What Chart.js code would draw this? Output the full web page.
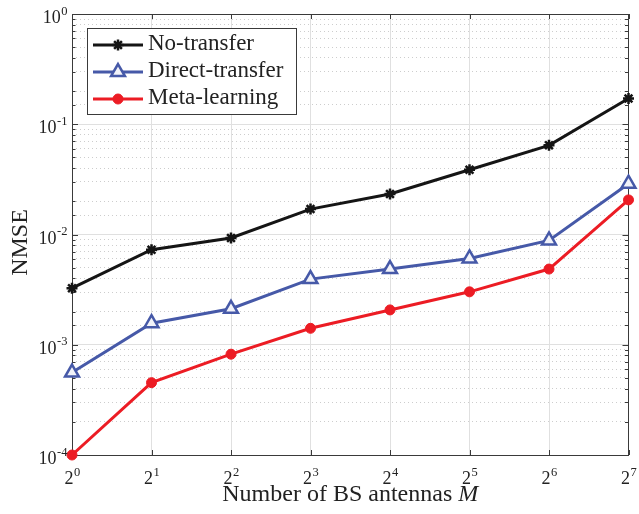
<!DOCTYPE html>
<html><head><meta charset="utf-8">
<script src="https://cdn.jsdelivr.net/npm/chart.js@4/dist/chart.umd.min.js"></script>
<style>html,body{margin:0;padding:0;background:#fff}#wrap{width:639px;height:514px}</style>
</head><body><div id="wrap"><canvas id="c" width="639" height="514"></canvas></div>
<script>
// ---- data ----
const antennas = [1, 2, 4, 8, 16, 32, 64, 128];
const xTickExponents = [0, 1, 2, 3, 4, 5, 6, 7];
const yTickExponents = [0, -1, -2, -3, -4];
const noTransfer = [3.26e-3, 7.27e-3, 9.3e-3, 1.70e-2, 2.33e-2, 3.87e-2, 6.44e-2, 0.171];
const directTransfer = [5.6e-4, 1.57e-3, 2.12e-3, 3.94e-3, 4.86e-3, 6.06e-3, 8.83e-3, 2.89e-2];
const metaLearning = [1.0e-4, 4.53e-4, 8.21e-4, 1.41e-3, 2.07e-3, 3.02e-3, 4.86e-3, 2.06e-2];
const seriesNames = ['No-transfer', 'Direct-transfer', 'Meta-learning'];
const xTitle = 'Number of BS antennas ';
const xTitleVar = 'M';
const yTitle = 'NMSE';

const SERIF = '"Liberation Serif", "Times New Roman", serif';
const TXT = '#222222';
const isDecade = v => Math.abs(Math.log10(v) - Math.round(Math.log10(v))) < 1e-6;

function drawPow(ctx, base, exp, x, baseline, align) {
  ctx.font = '18px ' + SERIF;
  const bw = ctx.measureText(base).width;
  ctx.font = '12.5px ' + SERIF;
  const sw = ctx.measureText(exp).width;
  let left = align === 'right' ? x - bw - sw : x - (bw + sw) / 2;
  ctx.textAlign = 'left';
  ctx.textBaseline = 'alphabetic';
  ctx.font = '18px ' + SERIF;
  ctx.fillText(base, left, baseline);
  ctx.font = '12.5px ' + SERIF;
  ctx.fillText(exp, left + bw + 0.5, baseline - 8.5);
}

const framePlugin = {
  id: 'frame',
  beforeDatasetsDraw(chart) {
    const {ctx, chartArea: a, scales: {x, y}} = chart;
    ctx.save();
    ctx.strokeStyle = '#3a3a3a';
    ctx.lineWidth = 1;
    ctx.beginPath();
    x.ticks.forEach(t => {
      const px = Math.round(x.getPixelForValue(t.value)) + 0.5;
      ctx.moveTo(px, a.bottom); ctx.lineTo(px, a.bottom - 5);
      ctx.moveTo(px, a.top); ctx.lineTo(px, a.top + 5);
    });
    y.ticks.forEach(t => {
      const py = Math.round(y.getPixelForValue(t.value)) + 0.5;
      const L = isDecade(t.value) ? 6 : 3.5;
      ctx.moveTo(a.left, py); ctx.lineTo(a.left + L, py);
      ctx.moveTo(a.right, py); ctx.lineTo(a.right - L, py);
    });
    ctx.stroke();
    ctx.strokeRect(Math.round(a.left) + 0.5, Math.round(a.top) + 0.5,
      Math.round(a.right - a.left) - 1, Math.round(a.bottom - a.top));
    ctx.restore();
  },
  afterDraw(chart) {
    const {ctx, chartArea: a, scales: {x, y}} = chart;
    ctx.save();
    ctx.fillStyle = TXT;
    antennas.forEach((v, i) => {
      drawPow(ctx, '2', String(xTickExponents[i]), x.getPixelForValue(v), a.bottom + 29, 'center');
    });
    yTickExponents.forEach(e => {
      const py = y.getPixelForValue(Math.pow(10, e));
      drawPow(ctx, '10', String(e), a.left - 5, py + 9, 'right');
    });
    // x title
    ctx.font = '24px ' + SERIF;
    const w1 = ctx.measureText(xTitle).width;
    ctx.font = 'italic 24px ' + SERIF;
    const w2 = ctx.measureText(xTitleVar).width;
    const cx = (a.left + a.right) / 2;
    const lx = cx - (w1 + w2) / 2;
    ctx.textAlign = 'left';
    ctx.textBaseline = 'alphabetic';
    ctx.font = '24px ' + SERIF;
    ctx.fillText(xTitle, lx, 501);
    ctx.font = 'italic 24px ' + SERIF;
    ctx.fillText(xTitleVar, lx + w1, 501);
    // y title
    ctx.translate(27, (a.top + a.bottom) / 2 + 8);
    ctx.rotate(-Math.PI / 2);
    ctx.textAlign = 'center';
    ctx.font = '24px ' + SERIF;
    ctx.fillText(yTitle, 0, 0);
    ctx.restore();
  }
};

const legendPlugin = {
  id: 'boxLegend',
  afterDatasetsDraw(chart) {
    const ctx = chart.ctx;
    ctx.save();
    ctx.fillStyle = '#ffffff';
    ctx.fillRect(87.5, 28.5, 209, 86);
    ctx.strokeStyle = '#3a3a3a';
    ctx.lineWidth = 1;
    ctx.strokeRect(87.5, 28.5, 209, 86);
    const rows = [45, 72, 99];
    chart.data.datasets.forEach((ds, i) => {
      const yy = rows[i];
      ctx.strokeStyle = ds.borderColor;
      ctx.lineWidth = ds.borderWidth;
      ctx.beginPath(); ctx.moveTo(93, yy); ctx.lineTo(143, yy); ctx.stroke();
      ctx.fillStyle = ds.pointBackgroundColor;
      ctx.strokeStyle = ds.pointBorderColor;
      ctx.lineWidth = ds.pointBorderWidth;
      Chart.helpers.drawPoint(ctx, {pointStyle: ds.pointStyle, radius: ds.pointRadius, rotation: 0, borderWidth: ds.pointBorderWidth}, 118, yy);
      ctx.fillStyle = TXT;
      ctx.font = '23px ' + SERIF;
      ctx.textAlign = 'left';
      ctx.textBaseline = 'alphabetic';
      ctx.fillText(ds.label, 148, yy + 5);
    });
    ctx.restore();
  }
};

new Chart(document.getElementById('c'), {
  type: 'line',
  data: {
    labels: antennas,
    datasets: [
      {label: seriesNames[0], data: antennas.map((m, i) => ({x: m, y: noTransfer[i]})),
       borderColor: '#151515', borderWidth: 3, pointStyle: 'star', pointRadius: 5.5,
       pointBorderWidth: 2.5, pointBackgroundColor: '#151515', pointBorderColor: '#151515', clip: false},
      {label: seriesNames[1], data: antennas.map((m, i) => ({x: m, y: directTransfer[i]})),
       borderColor: '#4659A8', borderWidth: 3, pointStyle: 'triangle', pointRadius: 8,
       pointBorderWidth: 2.5, pointBackgroundColor: '#f2f3f9', pointBorderColor: '#4659A8', clip: false},
      {label: seriesNames[2], data: antennas.map((m, i) => ({x: m, y: metaLearning[i]})),
       borderColor: '#EC1C24', borderWidth: 3, pointStyle: 'circle', pointRadius: 5,
       pointBorderWidth: 1, pointBackgroundColor: '#EC1C24', pointBorderColor: '#EC1C24', clip: false}
    ]
  },
  options: {
    responsive: false, animation: false, devicePixelRatio: 1,
    layout: {padding: {left: 0, right: 6, top: 14, bottom: 0}},
    plugins: {legend: {display: false}, tooltip: {enabled: false}},
    elements: {line: {tension: 0}},
    scales: {
      x: {type: 'logarithmic', min: 1, max: 128,
        afterBuildTicks: s => { s.ticks = antennas.map(v => ({value: v})); },
        ticks: {display: false},
        grid: {color: '#e0e0e0', lineWidth: 1, drawTicks: false},
        border: {display: false},
        afterFit: s => { s.height = 59; s.paddingLeft = 0; s.paddingRight = 0; }},
      y: {type: 'logarithmic', min: 1e-4, max: 1,
        ticks: {display: false, autoSkip: false},
        grid: {color: c => (c.tick && !isDecade(c.tick.value)) ? '#cdcdcd' : '#e0e0e0', lineWidth: 1, drawTicks: false},
        border: {display: false, dash: c => (c.tick && !isDecade(c.tick.value)) ? [1, 3] : []},
        afterFit: s => { s.width = 72; s.paddingTop = 0; s.paddingBottom = 0; }}
    }
  },
  plugins: [framePlugin, legendPlugin]
});
</script></body></html>
